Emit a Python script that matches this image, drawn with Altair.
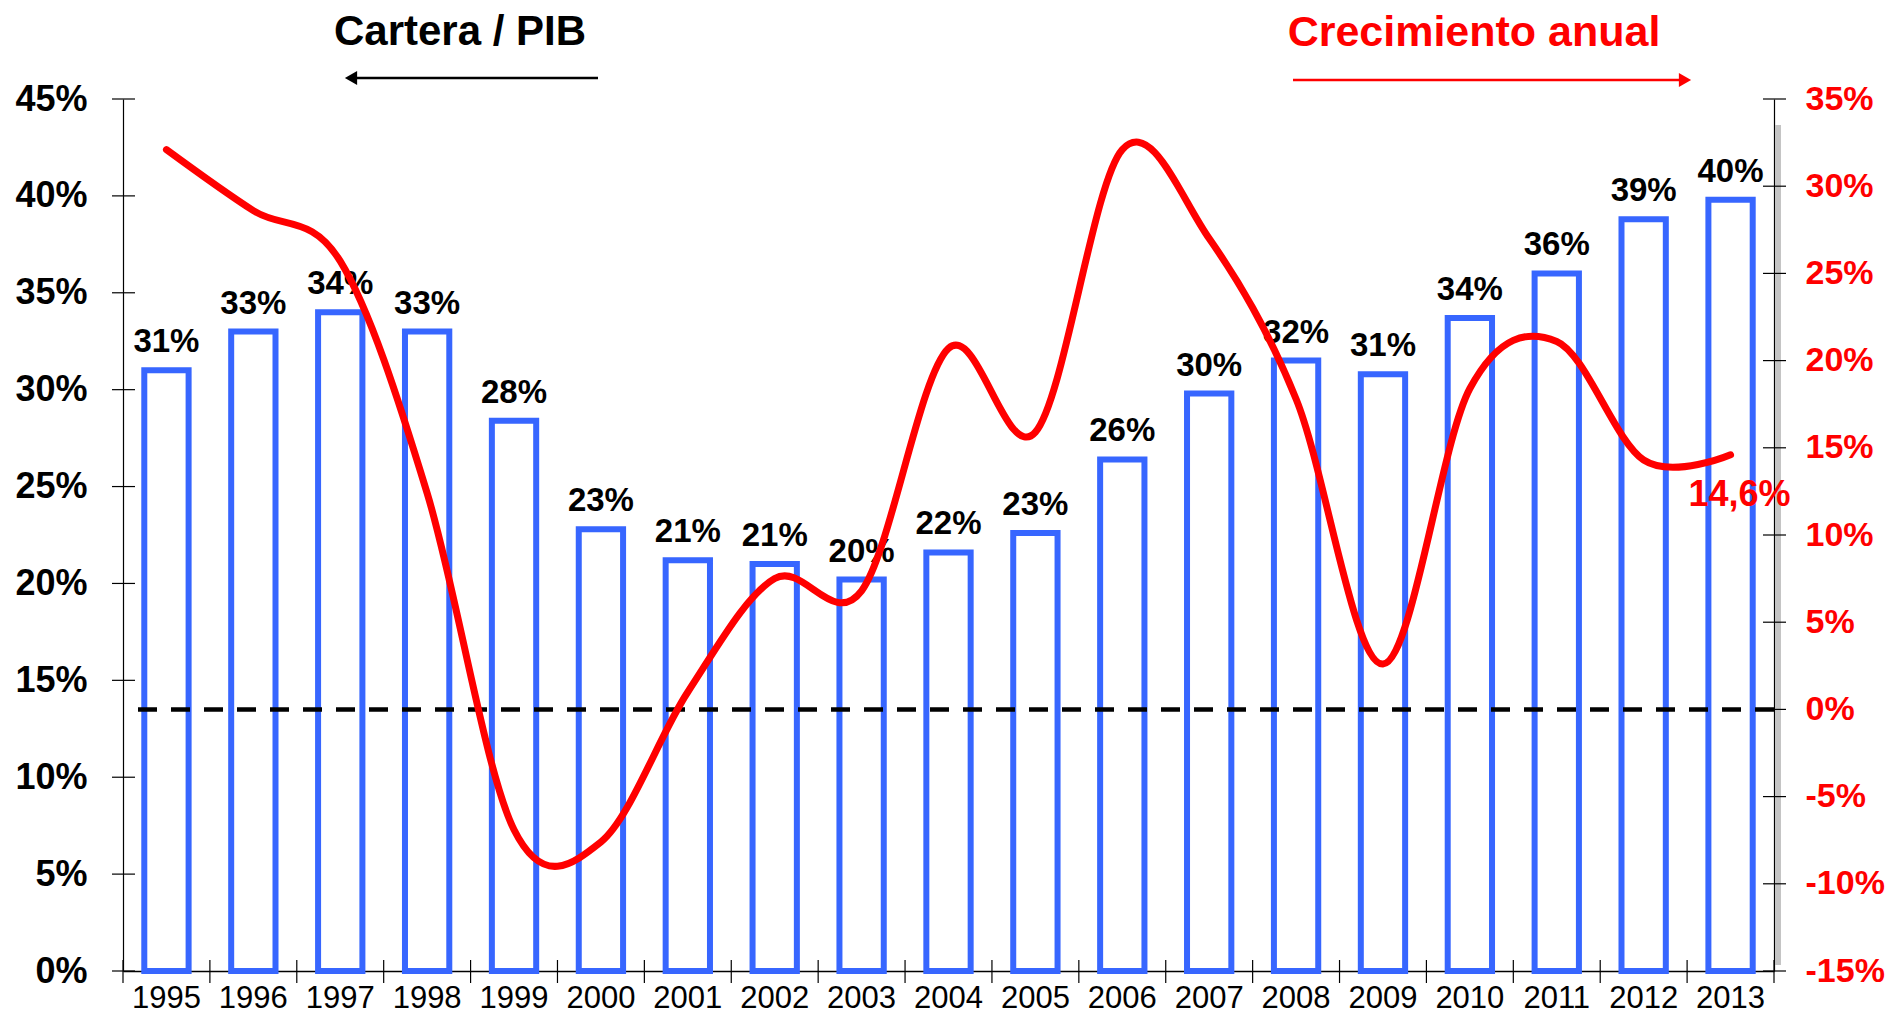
import altair as alt
import pandas as pd

FONT = "Liberation Sans"
BLUE = "#3766FF"

# ---- data ----
years = [str(y) for y in range(1995, 2014)]
cartera = [31.0, 33.0, 34.0, 33.0, 28.4, 22.8, 21.2, 21.0, 20.2, 21.6, 22.6,
           26.4, 29.8, 31.5, 30.8, 33.7, 36.0, 38.8, 39.8]
cartera_labels = ["31%", "33%", "34%", "33%", "28%", "23%", "21%", "21%", "20%",
                  "22%", "23%", "26%", "30%", "32%", "31%", "34%", "36%", "39%", "40%"]
crecimiento = [32.1, 28.6, 25.7, 12.4, -6.9, -7.6, 1.0, 7.5, 6.8, 20.7, 15.9,
               32.1, 27.0, 17.8, 2.6, 18.4, 21.1, 14.3, 14.6]
end_label = "14,6%"
left_ticks = [0, 5, 10, 15, 20, 25, 30, 35, 40, 45]
right_ticks = [-15, -10, -5, 0, 5, 10, 15, 20, 25, 30, 35]
title_left = "Cartera / PIB"
title_right = "Crecimiento anual"

W, H = 1651, 872

df = pd.DataFrame({"year": years, "cartera": cartera, "label": cartera_labels,
                   "crec": crecimiento})
df["end"] = [""] * (len(years) - 1) + [end_label]
one = pd.DataFrame({"a": [0]})

x_axis = alt.Axis(title=None, ticks=False, domainColor="black", domainWidth=1.5,
                  labelFont=FONT, labelFontSize=31, labelColor="black",
                  labelAngle=0, labelBaseline="alphabetic", labelPadding=36)
x_scale = alt.Scale(paddingInner=0, paddingOuter=0)

yl_scale = alt.Scale(domain=[0, 45], nice=False, zero=False)
yl_axis = alt.Axis(title=None, values=left_ticks, ticks=False, grid=False,
                   domainColor="black", domainWidth=1.2,
                   labelExpr="datum.value + '%'", labelFont=FONT, labelFontSize=36,
                   labelFontWeight="bold", labelColor="black", labelPadding=36)

yr_scale = alt.Scale(domain=[-15, 35], nice=False, zero=False)
yr_axis = alt.Axis(title=None, values=right_ticks, ticks=False, grid=False,
                   orient="right", domainColor="black", domainWidth=1.2,
                   labelExpr="datum.value + '%'", labelFont=FONT, labelFontSize=34,
                   labelFontWeight="bold", labelColor="red", labelPadding=31)


def xe(**kw):
    return alt.X("year:N", scale=x_scale, axis=x_axis, **kw)


# ---- group A: bars (left axis) ----
bars = alt.Chart(df).mark_bar(fill="white", stroke=BLUE, strokeWidth=6,
                              width=alt.RelativeBandSize(0.51)).encode(
    x=xe(), y=alt.Y("cartera:Q", scale=yl_scale, axis=yl_axis))

bar_text = alt.Chart(df).mark_text(font=FONT, fontSize=33, fontWeight="bold",
                                   color="black", baseline="alphabetic", dy=-18).encode(
    x=xe(),
    y=alt.Y("cartera:Q", scale=yl_scale, axis=yl_axis),
    text="label:N")

lticks = alt.Chart(pd.DataFrame({"t": left_ticks})).mark_rule(
    color="black", strokeWidth=1.2).encode(
    y=alt.Y("t:Q", scale=yl_scale, axis=yl_axis),
    x=alt.value(-11), x2=alt.value(12))

xticks = alt.Chart(df).mark_rule(color="black", strokeWidth=1.2).encode(
    x=xe(bandPosition=0),
    y=alt.value(H - 11), y2=alt.value(H + 12))

xtick_end = alt.Chart(df).transform_filter(f"datum.year == '{years[-1]}'").mark_rule(
    color="black", strokeWidth=1.2).encode(
    x=xe(bandPosition=1),
    y=alt.value(H - 11), y2=alt.value(H + 12))

group_a = alt.layer(bars, lticks, xticks, xtick_end, bar_text)

# ---- group B: growth line (right axis) ----
zero_line = alt.Chart(one).mark_rule(color="black", strokeWidth=4.5,
                                     strokeDash=[19, 14]).encode(
    y=alt.Y(datum=0, type="quantitative", scale=yr_scale, axis=yr_axis))

gray_band = alt.Chart(one).mark_rule(color="#C4C4C4", strokeWidth=6).encode(
    x=alt.value(W + 4), y=alt.value(26), y2=alt.value(866))

rticks = alt.Chart(pd.DataFrame({"t": right_ticks})).mark_rule(
    color="black", strokeWidth=1.2).encode(
    y=alt.Y("t:Q", scale=yr_scale, axis=yr_axis),
    x=alt.value(W - 11), x2=alt.value(W + 12))

line = alt.Chart(df).mark_line(color="#FF0000", strokeWidth=7,
                               interpolate="cardinal", strokeCap="round").encode(
    x=xe(),
    y=alt.Y("crec:Q", scale=yr_scale, axis=yr_axis))

end_text = alt.Chart(df).transform_filter("datum.end != ''").mark_text(
    font=FONT, fontSize=36, fontWeight="bold", color="#FF0000",
    align="center", baseline="alphabetic", dx=9, dy=51).encode(
    x=xe(),
    y=alt.Y("crec:Q", scale=yr_scale, axis=yr_axis),
    text="end:N")

group_b = alt.layer(zero_line, gray_band, rticks, line, end_text)

# ---- annotations ----
t1 = alt.Chart(one).mark_text(text=title_left, font=FONT, fontSize=42,
                              fontWeight="bold", color="black", align="center",
                              baseline="middle").encode(x=alt.value(337), y=alt.value(-67))
t2 = alt.Chart(one).mark_text(text=title_right, font=FONT, fontSize=43,
                              fontWeight="bold", color="#FF0000", align="center",
                              baseline="middle").encode(x=alt.value(1351), y=alt.value(-66))
a1 = alt.Chart(one).mark_rule(color="black", strokeWidth=2.5).encode(
    x=alt.value(228), x2=alt.value(475), y=alt.value(-21))
a1h = alt.Chart(one).mark_point(shape="triangle-left", filled=True, color="black",
                                size=200, opacity=1).encode(
    x=alt.value(228), y=alt.value(-21))
a2 = alt.Chart(one).mark_rule(color="#FF0000", strokeWidth=2.5).encode(
    x=alt.value(1170), x2=alt.value(1560), y=alt.value(-19))
a2h = alt.Chart(one).mark_point(shape="triangle-right", filled=True, color="#FF0000",
                                size=200, opacity=1).encode(
    x=alt.value(1562), y=alt.value(-19))

annot = alt.layer(t1, t2, a1, a1h, a2, a2h)

chart = alt.layer(group_a, group_b, annot).resolve_scale(y="independent").properties(
    width=W, height=H,
    autosize=alt.AutoSizeParams(type="none"),
    padding={"left": 115, "top": 91, "right": 113, "bottom": 43},
    background="white",
).configure_view(stroke=None)

chart.save("out.html", embed_options={"renderer": "svg", "actions": False})
